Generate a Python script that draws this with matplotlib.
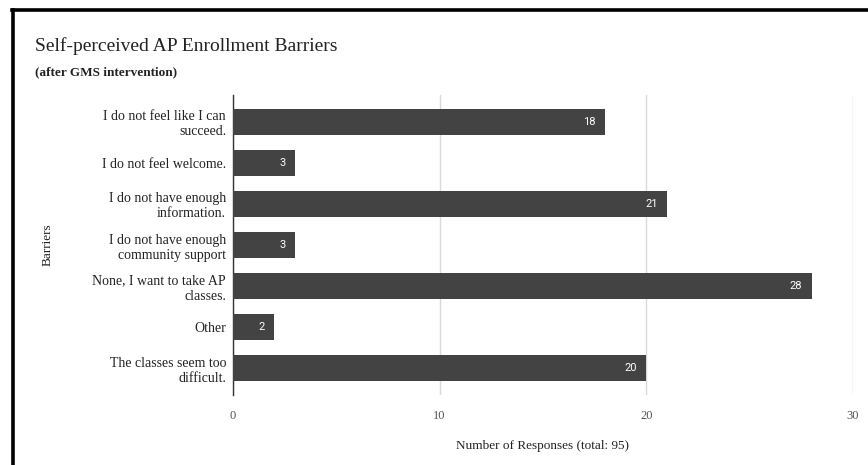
import matplotlib.pyplot as plt
from matplotlib.lines import Line2D

barriers = [
    "I do not feel like I can\nsucceed.",
    "I do not feel welcome.",
    "I do not have enough\ninformation.",
    "I do not have enough\ncommunity support",
    "None, I want to take AP\nclasses.",
    "Other",
    "The classes seem too\ndifficult.",
]
responses = [18, 3, 21, 3, 28, 2, 20]
xticks = [0, 10, 20, 30]

serif = "Liberation Serif"

fig = plt.figure(figsize=(8.68, 4.65), dpi=100)
ax = fig.add_axes([233 / 868, 1 - 395 / 465, 620 / 868, 300 / 465])

ypos = list(range(len(barriers)))
bars = ax.barh(ypos, responses, height=0.64, color="#434343", zorder=3)
for b, v in zip(bars, responses):
    ax.text(b.get_width() - 0.45, b.get_y() + b.get_height() / 2, str(v),
            ha="right", va="center", color="white", fontsize=8,
            family="Roboto", zorder=4)

ax.set_xlim(0, 30)
ax.set_ylim(len(barriers) - 0.35, -0.65)
ax.set_xticks(xticks)
ax.set_xticklabels([str(t) for t in xticks], family=serif, fontsize=9, color="#555555")
ax.set_yticks(ypos)
ax.set_yticklabels(barriers, family=serif, fontsize=10, color="#222222",
                   linespacing=1.2)
ax.tick_params(axis="y", length=0, pad=5)
ax.tick_params(axis="x", length=0, pad=11)
ax.grid(axis="x", color="#d9d9d9", linewidth=1, zorder=0)
for s in ["top", "right", "bottom"]:
    ax.spines[s].set_visible(False)
ax.spines["left"].set_color("#333333")
ax.spines["left"].set_linewidth(1)
ax.set_xlabel("Number of Responses (total: 95)", family=serif, fontsize=9.5,
              color="#222222", labelpad=13)
ax.set_ylabel("Barriers", family=serif, fontsize=9.5, color="#222222")
ax.yaxis.set_label_coords(-0.29, 0.5)

fig.text(35 / 868, 1 - 46 / 465, "Self-perceived AP Enrollment Barriers",
         family=serif, fontsize=14, color="#222222", va="center")
fig.text(35 / 868, 1 - 72 / 465, "(after GMS intervention)",
         family=serif, fontsize=9.5, color="#222222", va="center", weight="bold")

# outer frame of the chart box
fig.add_artist(Line2D([13 / 868, 13 / 868], [0, 1 - 10 / 465],
                      transform=fig.transFigure, color="black", linewidth=2.6))
fig.add_artist(Line2D([12 / 868, 1], [1 - 10 / 465, 1 - 10 / 465],
                      transform=fig.transFigure, color="black", linewidth=2.6))

fig.savefig("out.png", dpi=100)
